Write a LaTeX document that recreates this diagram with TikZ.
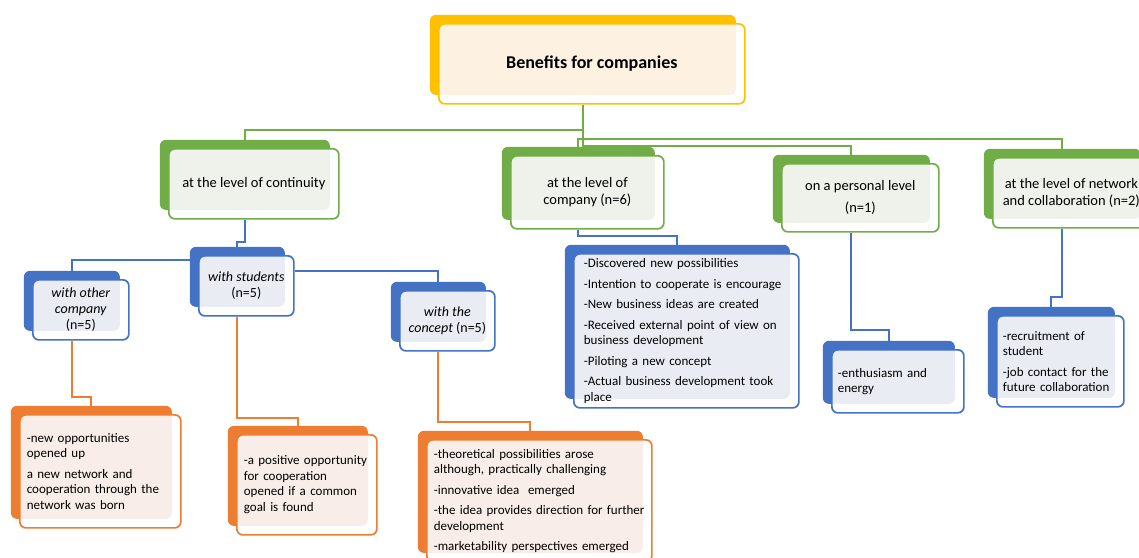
\documentclass[tikz,border=0pt]{standalone}
\usepackage{fontspec}
\setmainfont{Carlito}
\usetikzlibrary{shadows,backgrounds}

\definecolor{gold}{HTML}{FFC000}
\definecolor{goldlight}{HTML}{FDF2E2}
\definecolor{leaf}{HTML}{70AD47}
\definecolor{leaflight}{HTML}{EEF2EA}
\definecolor{sea}{HTML}{4472C4}
\definecolor{sealight}{HTML}{E9EDF3}
\definecolor{rust}{HTML}{ED7D31}
\definecolor{rustlight}{HTML}{F8EDE8}

\tikzset{
    card/.style 2 args={draw=#1, line width=1.7pt, fill=white, rounded corners=6pt,
        copy shadow={shadow xshift=-9pt, shadow yshift=9pt, fill=#1, draw=none},
        path picture={\fill[#2] ([xshift=-9pt,yshift=9pt]path picture bounding box.north west)
            rectangle ([xshift=-9pt,yshift=9pt]path picture bounding box.south east);},
        anchor=north west, inner sep=0pt, align=center},
    titlebox/.style={card={gold}{goldlight}, font=\bfseries\fontsize{18}{22}\selectfont},
    lvlbox/.style={card={leaf}{leaflight}, font=\fontsize{14.5}{17}\selectfont},
    midbox/.style={card={sea}{sealight}, font=\fontsize{14}{16}\selectfont},
    notebox/.style={card={sea}{sealight}, align=left, font=\fontsize{13}{15.5}\selectfont},
    outbox/.style={card={rust}{rustlight}, align=left, font=\fontsize{13}{15.5}\selectfont},
    gline/.style={leaf, line width=1.8pt},
    bline/.style={sea, line width=1.8pt},
    oline/.style={rust, line width=1.8pt}
}

\begin{document}
\begin{tikzpicture}[x=1pt, y=-1pt]
            \useasboundingbox (0,0) rectangle (1139,557);
            \clip (0,0) rectangle (1139,557);
            \node[titlebox, minimum width=306pt, minimum height=80pt] (top) at (438,23) {Benefits for companies};
            \node[lvlbox, minimum width=170pt, minimum height=70pt] (cont) at (168,148) {at the level of continuity};
            \node[lvlbox, minimum width=153pt, minimum height=73pt] (comp) at (510,155) {at the level of\\company (n=6)};
            \node[lvlbox, minimum width=157pt, minimum height=68pt] (pers) at (781,163) {on a personal level\\[5pt](n=1)};
            \node[lvlbox, minimum width=157pt, minimum height=70pt] (netw) at (992,157) {at the level of network\\and collaboration (n=2)};
            \node[midbox, minimum width=95pt, minimum height=60pt] (stud) at (198,255) {\textit{with students}\\(n=5)};
            \node[midbox, minimum width=96pt, minimum height=60pt] (othr) at (32,279) {\textit{with other}\\\textit{company}\\(n=5)};
            \node[midbox, minimum width=95pt, minimum height=60pt] (conc) at (399,290) {\textit{with the}\\\textit{concept} (n=5)};
            \node[notebox, minimum width=225pt, minimum height=154pt, text width=205pt, inner xsep=10pt] (det) at (573,253)
                {-Discovered new possibilities\\[5pt]-Intention to cooperate is encourage\\[5pt]-New business ideas are created\\[5pt]-Received external point of view on\\business development\\[5pt]-Piloting a new concept\\[5pt]-Actual business development took\\place};
            \node[notebox, minimum width=132pt, minimum height=63pt, text width=120pt, inner xsep=6pt] (enth) at (831,349) {-enthusiasm and\\energy};
            \node[notebox, minimum width=127pt, minimum height=91pt, text width=115pt, inner xsep=6pt] (recr) at (996,315)
                {-recruitment of\\student\\[5pt]-job contact for the\\future collaboration};
            \node[outbox, minimum width=161pt, minimum height=113pt, text width=147pt, inner xsep=7pt] (opp) at (19,414)
                {-new opportunities\\opened up\\[5pt]a new network and\\cooperation through the\\network was born};
            \node[outbox, minimum width=140pt, minimum height=100pt, text width=126pt, inner xsep=7pt] (goal) at (236,434)
                {-a positive opportunity\\for cooperation\\opened if a common\\goal is found};
            \node[outbox, minimum width=225pt, minimum height=122pt, text width=211pt, inner xsep=7pt] (idea) at (426,439)
                {-theoretical possibilities arose\\although, practically challenging\\[5pt]-innovative idea~~emerged\\[5pt]-the idea provides direction for further\\development\\[5pt]-marketability perspectives emerged};
            \begin{pgfonlayer}{background}
                \draw[gline] ([xshift=-9pt]top.south) -- ++(0,25) -| ([xshift=-9pt]cont.north);
                \draw[gline] ([xshift=-9pt]top.south) -- ++(0,34) -| ([xshift=-9pt]comp.north);
                \draw[gline] ([xshift=-9pt]top.south) -- ++(0,41) -| ([xshift=-9pt]pers.north);
                \draw[gline] ([xshift=-9pt]top.south) -- ++(0,34) -| ([xshift=-9pt]netw.north);
                \draw[bline] ([xshift=-9pt]cont.south) -- ++(0,22) -| ([xshift=-9pt]stud.north);
                \draw[bline] ([yshift=-5pt]stud.north west) -| ([xshift=-9pt]othr.north);
                \draw[bline] ([yshift=-16pt]stud.north east) -| ([xshift=-9pt]conc.north);
                \draw[bline] ([xshift=-9pt]comp.south) -- ++(0,6) -| ([xshift=-9pt]det.north);
                \draw[bline] ([xshift=-9pt]pers.south) -- ++(0,97) -| ([xshift=-9pt]enth.north);
                \draw[bline] ([xshift=-9pt]netw.south) -- ++(0,68) -| ([xshift=-9pt]recr.north);
                \draw[oline] ([xshift=-9pt]othr.south) -- ++(0,56) -| ([xshift=-9pt]opp.north);
                \draw[oline] ([xshift=-9pt]stud.south) -- ++(0,101) -| ([xshift=-9pt]goal.north);
                \draw[oline] ([xshift=-9pt]conc.south) -- ++(0,70) -| ([xshift=-9pt]idea.north);
            \end{pgfonlayer}
        \end{tikzpicture}
\end{document}
